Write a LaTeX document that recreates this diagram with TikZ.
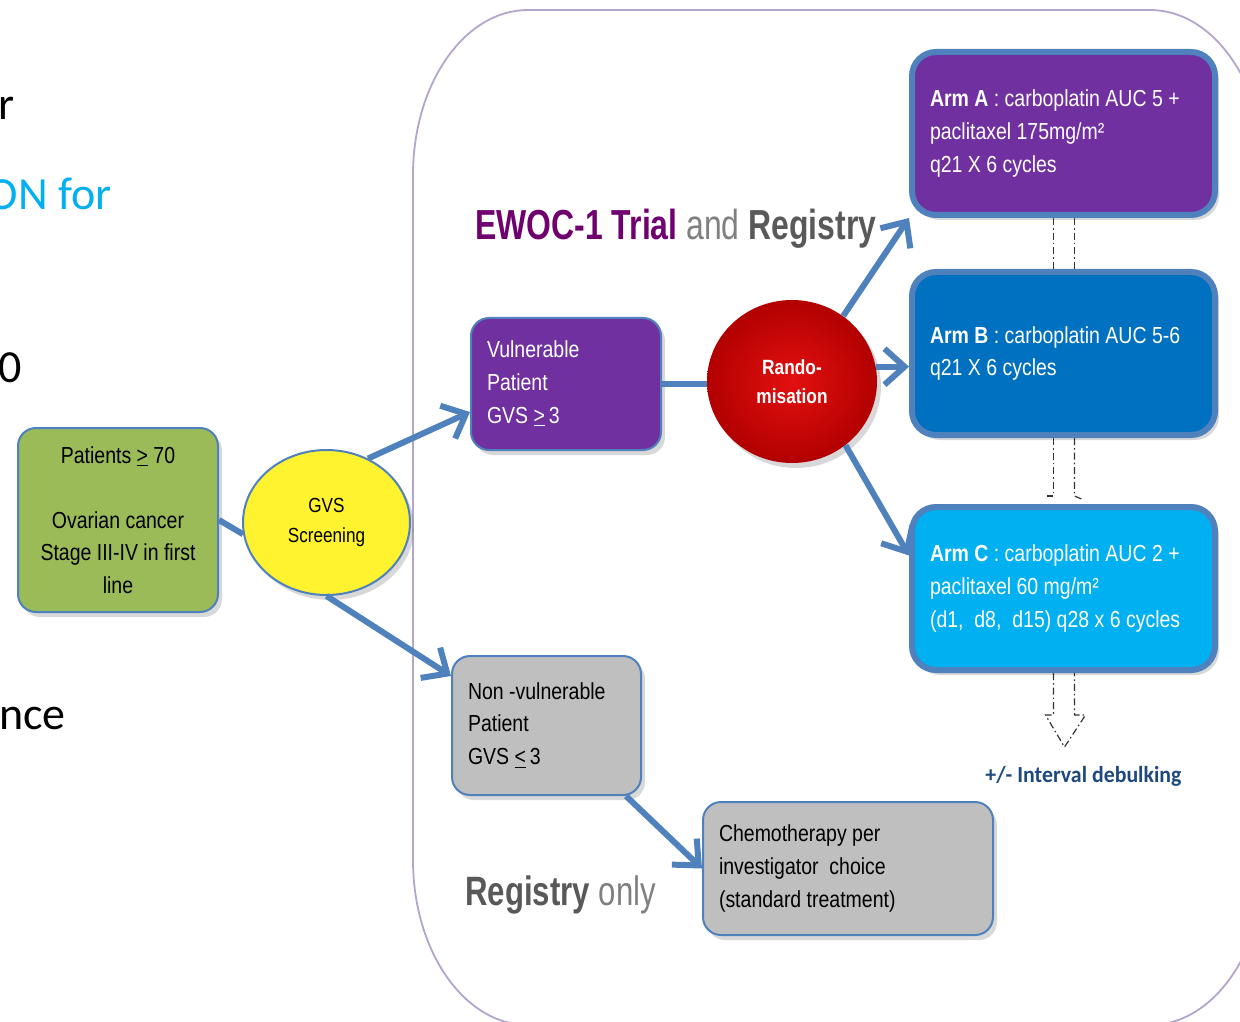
\documentclass[tikz,border=0pt]{standalone}
\usepackage{fontspec}
\setmainfont{Liberation Sans}[FakeStretch=0.84]
\newfontfamily\headfont{Liberation Sans}[FakeStretch=0.76]
\newfontfamily\slidefont{Carlito}
\newfontfamily\notefont{Carlito}[FakeStretch=0.95]
\usetikzlibrary{shapes.geometric,arrows.meta,shadows}
\definecolor{edgeblue}{RGB}{79,129,189}
\definecolor{framelav}{RGB}{180,165,205}
\definecolor{pinegreen}{RGB}{155,187,89}
\definecolor{gvsyellow}{RGB}{255,242,46}
\definecolor{armApurple}{RGB}{112,48,160}
\definecolor{armBblue}{RGB}{0,112,192}
\definecolor{armCcyan}{RGB}{0,176,240}
\definecolor{regfill}{RGB}{191,191,191}
\definecolor{randolight}{RGB}{228,16,16}
\definecolor{randodark}{RGB}{178,0,0}
\definecolor{titlepurple}{RGB}{112,0,112}
\definecolor{andgray}{RGB}{128,128,128}
\definecolor{reggray}{RGB}{89,89,89}
\definecolor{debulkblue}{RGB}{31,73,125}
\definecolor{slidecyan}{RGB}{0,176,240}
\def\boxtext{\fontsize{11.6}{16.3}\selectfont}
\def\slidetext{\slidefont\fontsize{23}{28}\selectfont}
\tikzset{
	box/.style={rectangle, rounded corners=9pt, draw=edgeblue, line width=1pt, inner xsep=8pt, inner ysep=0pt, align=flush left, font=\boxtext, drop shadow={shadow xshift=2pt, shadow yshift=-2.5pt, opacity=0.3}},
	armbox/.style={box, rounded corners=12pt, line width=3pt, inner xsep=9pt, text=white},
	flow/.style={draw=edgeblue, line width=3pt},
	flowarrow/.style={flow, -{Straight Barb[length=10pt,width=18pt]}},
	dashbar/.style={black!80, line width=0.6pt, dash pattern=on 3.5pt off 1.5pt on 0.8pt off 1.5pt},
	slideword/.style={anchor=base east, inner sep=0pt, font=\slidetext}
}

\begin{document}
\begin{tikzpicture}[x=0.5pt,y=-0.5pt]
	\clip (0,0) rectangle (1240,1021);
	\fill[white] (0,0) rectangle (1240,1021);

	\node[slideword] (cutr) at (15,120) {r};
	\node[slideword, text=slidecyan] (cuton) at (112,210) {ON for};
	\node[slideword] (cutzero) at (22,382) {0};
	\node[slideword] (cutnce) at (66,729) {nce};

	\draw[framelav, line width=0.9pt] (528,10) arc[start angle=90, end angle=180, x radius=57.5pt, y radius=82.5pt] -- (413,860) arc[start angle=180, end angle=270, x radius=57.5pt, y radius=82.5pt] -- (1150,1025) arc[start angle=270, end angle=360, x radius=57.5pt, y radius=82.5pt] -- (1265,175) arc[start angle=0, end angle=90, x radius=57.5pt, y radius=82.5pt] -- cycle;

	\node[anchor=base west, inner sep=0pt, font=\headfont\fontsize{21}{25}\selectfont] (title) at (475,240) {\textcolor{titlepurple}{\textbf{EWOC-1 Trial}} \textcolor{andgray}{and} \textcolor{reggray}{\textbf{Registry}}};
	\node[anchor=base west, inner sep=0pt, font=\headfont\fontsize{20.5}{25}\selectfont] (regonly) at (465,905) {\textcolor{reggray}{\textbf{Registry}} \textcolor{andgray}{only}};
	\node[anchor=base west, inner sep=0pt, text=debulkblue, font=\notefont\bfseries\fontsize{11.5}{14}\selectfont] (debulk) at (985,782) {+/- Interval debulking};

	\node[box, fill=pinegreen, align=flush center, minimum width=100pt, minimum height=92pt, text width=84pt] (green) at (118,520) {Patients \underline{>} 70\\[16.3pt]Ovarian cancer\\Stage III-IV in first\\line};
	\node[ellipse, draw=edgeblue, line width=1pt, fill=gvsyellow, minimum width=83.5pt, minimum height=72.5pt, inner sep=0pt, align=center, font=\fontsize{10.2}{15}\selectfont, drop shadow={shadow xshift=2pt, shadow yshift=-2.5pt, opacity=0.3}] (gvs) at (326.5,522.5) {GVS\\Screening};

	\node[box, fill=armApurple, text=white, minimum width=95pt, minimum height=66pt, text width=79pt] (vuln) at (566,384) {Vulnerable\\Patient\\GVS \underline{>}\,3};
	\node[box, fill=regfill, minimum width=94.5pt, minimum height=69.5pt, text width=78.5pt] (nonvuln) at (546.5,725.5) {Non -vulnerable\\Patient\\GVS \underline{<}\,3};
	\node[box, fill=regfill, minimum width=145pt, minimum height=66.5pt, text width=129pt] (chemo) at (848,868.5) {Chemotherapy per\\investigator~ choice\\(standard treatment)};

	\node[ellipse, inner color=randolight, outer color=randodark, minimum width=85pt, minimum height=81.5pt, inner sep=0pt, align=center, text=white, font=\bfseries\fontsize{10.3}{14.5}\selectfont, drop shadow={shadow xshift=2pt, shadow yshift=-2.5pt, opacity=0.3}] (rando) at (792,381.5) {Rando-\\misation};

	\node[armbox, fill=armApurple, minimum width=151.5pt, minimum height=81.5pt, text width=133.5pt] (armA) at (1063.5,133.5) {\textbf{Arm A} : carboplatin AUC 5 +\\paclitaxel 175mg/m²\\q21 X 6 cycles};
	\node[armbox, fill=armBblue, minimum width=151.5pt, minimum height=81.5pt, text width=133.5pt] (armB) at (1063.5,353.5) {\textbf{Arm B} : carboplatin AUC 5-6\\q21 X 6 cycles};
	\node[armbox, fill=armCcyan, minimum width=151.5pt, minimum height=81.5pt, text width=133.5pt] (armC) at (1063.5,588.5) {\textbf{Arm C} : carboplatin AUC 2 +\\paclitaxel 60 mg/m²\\\mbox{(d1,~ d8,~ d15) q28 x 6 cycles}};

	\draw[flow] (green.east) -- (gvs.188);
	\draw[flowarrow] (gvs.57) -- ([yshift=-14pt]vuln.west);
	\draw[flowarrow] (gvs.south) -- ([yshift=-10.5pt]nonvuln.north west);
	\draw[flow] (vuln.east) -- (vuln.east -| rando.west);
	\draw[flowarrow] (rando.52) -- (armA.south west);
	\draw[flowarrow] (rando.10) -- (rando.10 -| armB.west);
	\draw[flowarrow] (rando.-50) -- ([yshift=16.5pt]armC.west);
	\draw[flowarrow] ([xshift=-8pt]nonvuln.south east) -- (chemo.west);

	\draw[dashbar] ([xshift=-5pt]armA.south) -- ([xshift=-5pt]armB.north);
	\draw[dashbar] ([xshift=5.5pt]armA.south) -- ([xshift=5.5pt]armB.north);
	\draw[dashbar] ([xshift=-5pt]armB.south) -- ++(0,58) -- ++(-7,0);
	\draw[dashbar] ([xshift=5.5pt]armB.south) -- ++(0,58) -- ++(7,3);
	\draw[dashbar] ([xshift=-5pt]armC.south) -- ++(0,42) -- ++(-8,0) -- ++(19,32) -- ++(21,-32) -- ++(-11,0) -- ([xshift=5.5pt]armC.south);
\end{tikzpicture}
\end{document}
